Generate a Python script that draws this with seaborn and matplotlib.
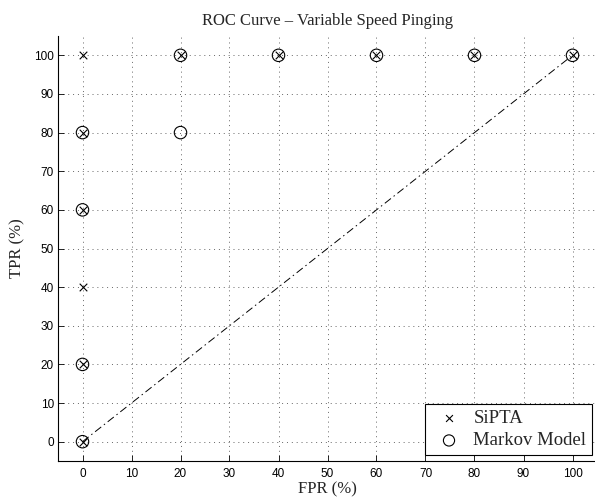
import matplotlib
matplotlib.use("Agg")
import matplotlib.pyplot as plt
import seaborn as sns
import pandas as pd

# ROC operating points (percent)
sipta_fpr = [0, 0, 0, 0, 0, 0, 20, 40, 60, 80, 100]
sipta_tpr = [0, 20, 40, 60, 80, 100, 100, 100, 100, 100, 100]
markov_fpr = [0, 0, 0, 0, 20, 20, 40, 60, 80, 100]
markov_tpr = [0, 20, 60, 80, 80, 100, 100, 100, 100, 100]
chance_x = [0, 100]
chance_y = [0, 100]
ticks = list(range(0, 101, 10))

sns.set_style("white")
plt.rcParams["font.family"] = ["Liberation Sans", "DejaVu Sans"]

W, H = 595, 497
fig = plt.figure(figsize=(W / 100, H / 100), dpi=100)
ax = fig.add_axes([58 / W, 36 / H, 539 / W, 425 / H])

chance = pd.DataFrame({"x": chance_x, "y": chance_y})
sns.lineplot(data=chance, x="x", y="y", ax=ax, color="black", lw=0.7,
             linestyle=(0, (8, 3.5, 1.5, 3.5)), legend=False)

sipta = pd.DataFrame({"fpr": sipta_fpr, "tpr": sipta_tpr})
markov = pd.DataFrame({"fpr": markov_fpr, "tpr": markov_tpr})
sns.scatterplot(data=sipta, x="fpr", y="tpr", ax=ax, marker="x", s=30,
                color="black", linewidth=0.8, label="SiPTA", zorder=3)
sns.scatterplot(data=markov, x="fpr", y="tpr", ax=ax, marker="o", s=80,
                facecolor="none", edgecolor="black", linewidth=0.8,
                label="Markov Model", zorder=3)

ax.set_xlim(-5, 105)
ax.set_ylim(-5, 105)
ax.set_xticks(ticks)
ax.set_yticks(ticks)
ax.tick_params(direction="in", length=4, width=0.6, labelsize=8.5,
               colors="black", bottom=True, left=True)
ax.tick_params(axis="x", pad=5)
ax.tick_params(axis="y", pad=3)
ax.grid(True, linestyle=(0, (1, 4)), color="#666666", linewidth=0.7)
for side in ("top", "right"):
    ax.spines[side].set_visible(False)
for side in ("left", "bottom"):
    ax.spines[side].set_color("black")
    ax.spines[side].set_linewidth(0.8)

serif = ["Liberation Serif", "DejaVu Serif"]
ax.set_title("ROC Curve \u2013 Variable Speed Pinging", family=serif,
             fontsize=12, pad=8)
ax.set_xlabel("FPR (%)", family=serif, fontsize=12)
ax.set_ylabel("TPR (%)", family=serif, fontsize=12)
ax.xaxis.set_label_coords(0.5, (461 - 481) / 425)
ax.yaxis.set_label_coords((25 - 58) / 539, 0.5)

leg = ax.legend(loc="lower right",
                bbox_to_anchor=(592 / W, 1 - 455 / H),
                bbox_transform=fig.transFigure,
                prop={"family": serif, "size": 13.5},
                frameon=True, fancybox=False, borderaxespad=0.0,
                handletextpad=0.3, borderpad=0.3, labelspacing=0.3,
                handlelength=2.0, markerscale=0.9)
leg.get_frame().set_edgecolor("black")
leg.get_frame().set_linewidth(0.8)
leg.get_frame().set_alpha(1)

fig.savefig("out.png", dpi=100)
